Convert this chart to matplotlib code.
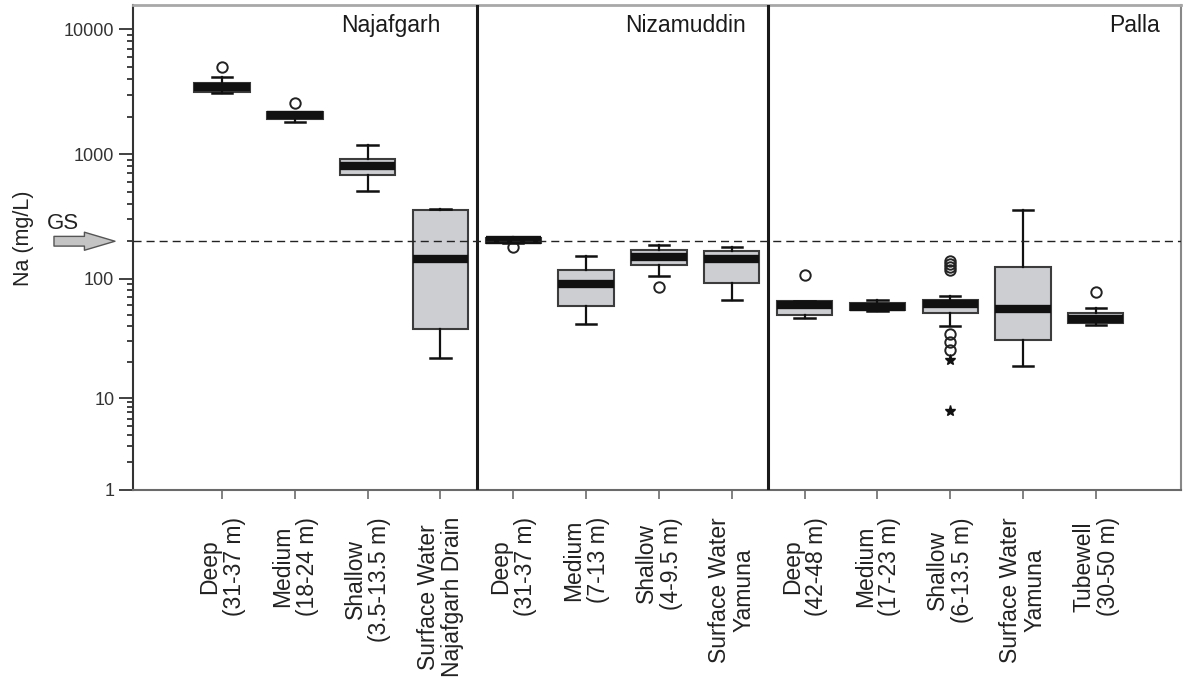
import numpy as np
import matplotlib
matplotlib.use('Agg')
import matplotlib.pyplot as plt
from matplotlib.ticker import FixedLocator, FuncFormatter, NullFormatter

plt.rcParams['font.family'] = ['Liberation Sans', 'DejaVu Sans']

# categories (one box per sampling group)
labels = ['Deep\n(31-37 m)', 'Medium\n(18-24 m)', 'Shallow\n(3.5-13.5 m)',
          'Surface Water\nNajafgarh Drain',
          'Deep\n(31-37 m)', 'Medium\n(7-13 m)', 'Shallow\n(4-9.5 m)',
          'Surface Water\nYamuna',
          'Deep\n(42-48 m)', 'Medium\n(17-23 m)', 'Shallow\n(6-13.5 m)',
          'Surface Water\nYamuna', 'Tubewell\n(30-50 m)']
sites = ['Najafgarh', 'Nizamuddin', 'Palla']

# box statistics, Na in mg/L
whislo = [3110, 1825, 502, 21.7, 192, 41.6, 105, 66, 47.3, 53.7, 40.3, 18.7, 41]
q1 = [3150, 1905, 683, 37.8, 194, 59, 130, 92.6, 49.4, 54.5, 51.4, 30.8, 42.5]
med = [3450, 2040, 805, 144, 203, 91, 150, 144.5, 60, 58.5, 61, 55.5, 46]
q3 = [3740, 2180, 917, 354, 214, 117, 169, 166, 65, 62.2, 67, 125, 51.4]
whishi = [4130, 2180, 1187, 363, 216, 152, 188, 179, 65, 66, 71.7, 354, 57.3]
outliers = [[5020], [2590], [], [], [180], [], [86], [], [108], [],
            [140, 132, 124, 117, 34.8, 29.7, 25.3], [], [78]]
extremes = [[], [], [], [], [], [], [], [], [], [], [20.8, 7.2], [], []]

gs_limit = 200

# axis is log but the 1-10 decade is squeezed, as in the original
LOGS = [-6, 0, 1, 2, 3, 4, 8]
POS = [-6 * 91.7, 0, 91.7, 211.2, 335.7, 460.7, 460.7 + 4 * 125]


def fwd(v):
    v = np.clip(np.asarray(v, dtype=float), 1e-6, None)
    return np.interp(np.log10(v), LOGS, POS)


def inv(u):
    return 10 ** np.interp(np.asarray(u, dtype=float), POS, LOGS)


fig = plt.figure(figsize=(11.86, 6.79), dpi=100)
ax = fig.add_axes([133 / 1186, 1 - 490 / 679, 1048 / 1186, 485 / 679])
ax.set_yscale('function', functions=(fwd, inv))

stats = []
for i in range(len(labels)):
    stats.append(dict(med=med[i], q1=q1[i], q3=q3[i], whislo=whislo[i],
                      whishi=whishi[i], fliers=outliers[i]))
pos = np.arange(len(labels))
ax.bxp(stats, positions=pos, widths=0.76, capwidths=0.28, patch_artist=True,
       manage_ticks=False,
       boxprops=dict(facecolor='#cdced2', edgecolor='#3c3c3c', linewidth=1.5),
       medianprops=dict(color='#111111', linewidth=6, solid_capstyle='butt'),
       whiskerprops=dict(color='#111111', linewidth=1.6),
       capprops=dict(color='#111111', linewidth=1.8),
       flierprops=dict(marker='o', markerfacecolor='none', markeredgecolor='#222222',
                       markersize=7.5, markeredgewidth=1.4))
for i, ex in enumerate(extremes):
    if ex:
        ax.plot([pos[i]] * len(ex), ex, ls='none', marker='*', color='#111111', ms=8)

ax.axhline(gs_limit, color='#222222', lw=1.0, dashes=(5.8, 3.6), zorder=5)
for xs in [3.5, 7.5]:
    ax.axvline(xs, color='#1a1a1a', lw=2.2, zorder=4)

ax.set_xlim(-1.223, 13.17)
ax.set_ylim(1, 15600)

ax.yaxis.set_major_locator(FixedLocator([1, 10, 100, 1000, 10000]))
ax.yaxis.set_major_formatter(FuncFormatter(lambda v, p: '%g' % v))
ax.yaxis.set_minor_locator(FixedLocator([m * 10 ** d for d in range(4) for m in range(2, 10)]))
ax.yaxis.set_minor_formatter(NullFormatter())
ax.tick_params(axis='y', which='major', length=10, width=1.3, color='#333333',
               labelsize=13, labelcolor='#333333', pad=3.5)
ax.tick_params(axis='y', which='minor', length=4.5, width=1.3, color='#333333')

ax.set_xticks(pos)
ax.set_xticklabels(labels, rotation=90, ha='center', va='top', multialignment='center',
                   linespacing=1.08)
ax.tick_params(axis='x', length=6.5, width=1.3, color='#777777', labelsize=16.5,
               labelcolor='#222222', pad=13)

ax.spines['top'].set_color('#a8a8a8')
ax.spines['top'].set_linewidth(2)
ax.spines['right'].set_color('#888888')
ax.spines['right'].set_linewidth(1.5)
ax.spines['bottom'].set_color('#6a6a6a')
ax.spines['bottom'].set_linewidth(1.5)
ax.spines['left'].set_color('#333333')
ax.spines['left'].set_linewidth(1.5)

# site names in the top-right corner of each panel
tr = ax.get_xaxis_transform()
for name, xr in zip(sites, [2.995, 7.2, 12.88]):
    ax.text(xr, 0.957, name, transform=tr, ha='right', va='center',
            fontsize=16.5, color='#1a1a1a')

ax.set_ylabel('Na (mg/L)', fontsize=15.5, color='#222222')
ax.yaxis.set_label_coords(-0.094, 0.52)

# GS arrow pointing at the guideline
yt = ax.get_yaxis_transform()
ax.annotate('', xy=(-0.0172, gs_limit), xycoords=yt, xytext=(-0.0754, gs_limit),
            textcoords=yt, annotation_clip=False,
            arrowprops=dict(arrowstyle='simple,head_length=1.1,head_width=0.65,tail_width=0.35',
                            mutation_scale=20, fc='#c4c4c4', ec='#555555', lw=1,
                            shrinkA=0, shrinkB=0))
ax.text(-0.0665, 0.55, 'GS', transform=ax.transAxes, ha='center', va='center',
        fontsize=16, color='#222222')

fig.savefig('out.png', dpi=100)
